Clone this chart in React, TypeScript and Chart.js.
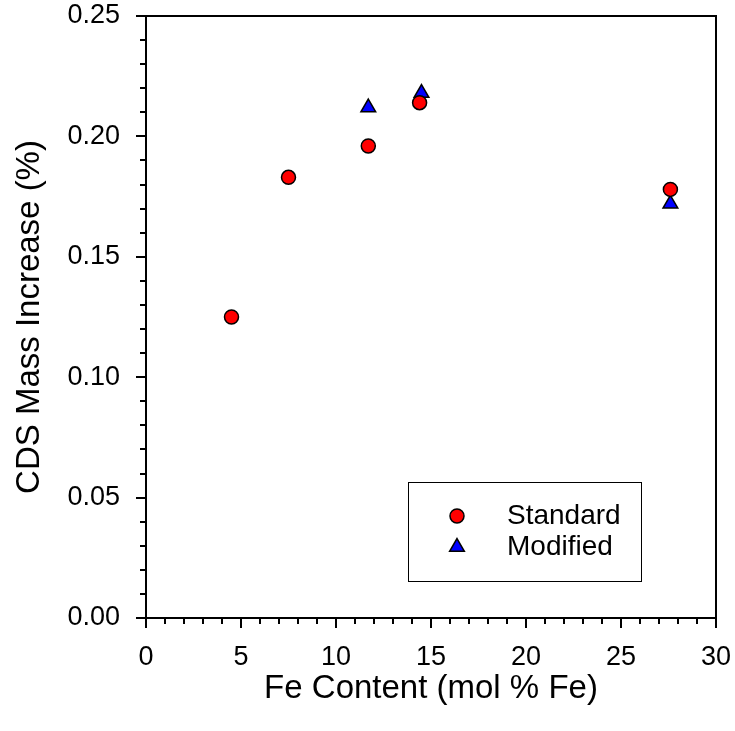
import React, { useEffect, useRef } from "react";
import { Chart, registerables } from "chart.js";

Chart.register(...registerables);

const feStandard = [4.5, 7.5, 11.7, 14.4, 27.6];
const massStandard = [0.125, 0.183, 0.196, 0.214, 0.178];
const feModified = [11.7, 14.5, 27.6];
const massModified = [0.212, 0.218, 0.172];

const xMin = 0, xMax = 30, xMajor = 5, xMinor = 1;
const yMin = 0, yMax = 0.25, yMajor = 0.05, yMinor = 0.01;

const FONT = "'Liberation Sans', Arial, Helvetica, sans-serif";

const framePlugin = {
  id: "frameTicks",
  afterDraw(chart: any) {
    const { ctx, chartArea, scales } = chart;
    const xs = scales.x, ys = scales.y;
    ctx.save();
    ctx.strokeStyle = "#000";
    ctx.lineWidth = 2;
    ctx.beginPath();
    ctx.moveTo(chartArea.left, chartArea.top);
    ctx.lineTo(chartArea.right + 1, chartArea.top);
    ctx.moveTo(chartArea.right, chartArea.top - 1);
    ctx.lineTo(chartArea.right, chartArea.bottom);
    const nx = Math.round((xMax - xMin) / xMinor);
    for (let i = 0; i <= nx; i++) {
      const v = xMin + i * xMinor;
      const major = Math.abs(v / xMajor - Math.round(v / xMajor)) < 1e-6;
      const px = Math.round(xs.getPixelForValue(v));
      ctx.moveTo(px, chartArea.bottom);
      ctx.lineTo(px, chartArea.bottom + (major ? 10 : 6));
    }
    const ny = Math.round((yMax - yMin) / yMinor);
    for (let i = 0; i <= ny; i++) {
      const v = yMin + i * yMinor;
      const major = Math.abs(v / yMajor - Math.round(v / yMajor)) < 1e-6;
      const py = Math.round(ys.getPixelForValue(v));
      ctx.moveTo(chartArea.left, py);
      ctx.lineTo(chartArea.left - (major ? 10 : 6), py);
    }
    ctx.stroke();

    // legend
    const bx = 408.5, by = 482.5, bw = 233, bh = 99;
    ctx.lineWidth = 1;
    ctx.strokeRect(bx, by, bw, bh);
    const items = chart.data.datasets;
    const rows = [516, 547];
    ctx.font = `28px ${FONT}`;
    ctx.textBaseline = "middle";
    ctx.textAlign = "left";
    items.forEach((ds: any, i: number) => {
      const mx = 457, my = rows[i];
      ctx.beginPath();
      ctx.fillStyle = ds.backgroundColor;
      ctx.strokeStyle = "#000";
      ctx.lineWidth = 1.5;
      const r = ds.pointRadius;
      if (ds.pointStyle === "triangle") {
        let rad = 0;
        ctx.moveTo(mx + Math.sin(rad) * r, my - Math.cos(rad) * r);
        rad += (2 * Math.PI) / 3;
        ctx.lineTo(mx + Math.sin(rad) * r, my - Math.cos(rad) * r);
        rad += (2 * Math.PI) / 3;
        ctx.lineTo(mx + Math.sin(rad) * r, my - Math.cos(rad) * r);
        ctx.closePath();
      } else {
        ctx.arc(mx, my, r, 0, Math.PI * 2);
      }
      ctx.fill();
      ctx.stroke();
      ctx.fillStyle = "#000";
      ctx.fillText(ds.label, 507, my);
    });
    ctx.restore();
  },
};

export default function App() {
  const ref = useRef<HTMLCanvasElement>(null);
  useEffect(() => {
    if (!ref.current) return;
    const chart = new Chart(ref.current, {
      type: "scatter",
      data: {
        datasets: [
          {
            label: "Standard",
            data: feStandard.map((x, i) => ({ x, y: massStandard[i] })),
            backgroundColor: "#ff0000",
            borderColor: "#000000",
            borderWidth: 1.5,
            pointRadius: 7,
            pointHoverRadius: 7,
            pointStyle: "circle",
          },
          {
            label: "Modified",
            data: feModified.map((x, i) => ({ x, y: massModified[i] })),
            backgroundColor: "#0000ff",
            borderColor: "#000000",
            borderWidth: 1.5,
            pointRadius: 8.5,
            pointHoverRadius: 8.5,
            pointStyle: "triangle",
          },
        ],
      },
      options: {
        animation: false,
        responsive: false,
        maintainAspectRatio: false,
        layout: { padding: { left: 0, top: 16, right: 19, bottom: 0 } },
        plugins: {
          legend: { display: false },
          tooltip: { enabled: false },
        },
        scales: {
          x: {
            type: "linear",
            min: xMin,
            max: xMax,
            afterFit: (s: any) => {
              s.height = 113;
              s.paddingLeft = 0; s.paddingRight = 0; s.paddingTop = 0; s.paddingBottom = 0;
            },
            ticks: {
              stepSize: xMajor,
              color: "#000",
              font: { family: FONT, size: 27 },
              padding: 23,
              maxRotation: 0,
            },
            grid: { display: true, drawOnChartArea: false, drawTicks: false },
            border: { display: true, color: "#000", width: 2 },
            title: {
              display: true,
              text: "Fe Content (mol % Fe)",
              color: "#000",
              font: { family: FONT, size: 33 },
              padding: { top: 0, bottom: 22 },
            },
          },
          y: {
            type: "linear",
            min: yMin,
            max: yMax,
            afterFit: (s: any) => {
              s.width = 146;
              s.paddingLeft = 0; s.paddingRight = 0; s.paddingTop = 0; s.paddingBottom = 0;
            },
            ticks: {
              stepSize: yMajor,
              color: "#000",
              font: { family: FONT, size: 27 },
              padding: 26,
              callback: (v: any) => Number(v).toFixed(2),
            },
            grid: { display: true, drawOnChartArea: false, drawTicks: false },
            border: { display: true, color: "#000", width: 2 },
            title: {
              display: true,
              text: "CDS Mass Increase (%)",
              color: "#000",
              font: { family: FONT, size: 33 },
              padding: { top: 10, bottom: 0 },
            },
          },
        },
      },
      plugins: [framePlugin],
    });
    return () => chart.destroy();
  }, []);
  return (
    <div style={{ position: "absolute", left: 0, top: 0, width: 735, height: 731, background: "#fff" }}>
      <canvas ref={ref} width={735} height={731} style={{ width: 735, height: 731, display: "block" }} />
    </div>
  );
}
